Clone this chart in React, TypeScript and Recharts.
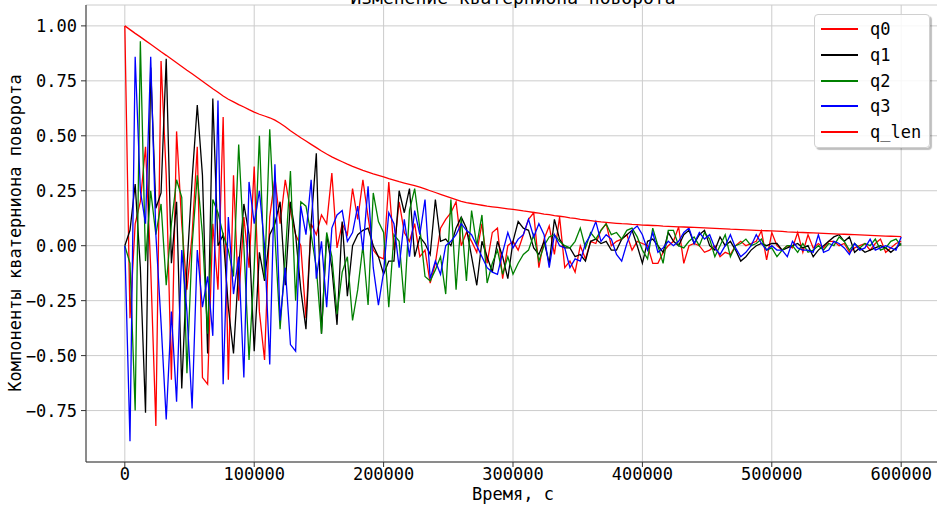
import React from 'react';
import { LineChart, Line, XAxis, YAxis, CartesianGrid } from 'recharts';

// sampling step of the simulation, seconds
const STEP = 4000;

const q0 = [
  1.00, -0.33, 0.10, 0.20, 0.45, -0.10, -0.82, 0.84, 0.32, -0.61,
  0.52, 0.10, -0.20, 0.05, 0.45, -0.60, -0.63, 0.10, -0.20, 0.585,
  -0.61, 0.32, -0.25, 0.13, -0.10, 0.36, -0.30, -0.52, 0.13, 0.31,
  0.10, 0.30, 0.16, 0.05, 0.00, -0.33, 0.10, 0.05, 0.14, 0.10,
  0.33, -0.01, 0.10, 0.05, 0.26, 0.12, 0.30, 0.13, -0.02, -0.05,
  -0.06, 0.29, -0.02, 0.20, 0.06, 0.02, 0.10, -0.05, -0.02, -0.17,
  -0.08, 0.08, 0.12, 0.15, 0.20, 0.00, 0.06, 0.02, -0.03, 0.10,
  -0.08, 0.06, 0.08, -0.15, 0.00, 0.02, -0.02, 0.05, 0.12, 0.15,
  -0.10, 0.03, 0.09, -0.04, 0.13, -0.10, -0.07, -0.12, 0.00, -0.06,
  0.02, 0.01, 0.07, 0.10, 0.00, 0.02, 0.03, 0.05, -0.02, 0.02,
  0.01, 0.00, -0.08, -0.08, -0.03, 0.00, 0.02, 0.085, -0.08, 0.00,
  0.01, 0.00, -0.03, -0.02, 0.00, -0.05, -0.03, -0.04, 0.00, 0.02,
  0.00, 0.01, 0.02, 0.068, -0.065, 0.06, 0.00, -0.02, 0.00, -0.01,
  0.06, -0.03, 0.05, -0.01, 0.01, -0.01, 0.02, 0.02, 0.00, 0.01,
  -0.03, -0.01, 0.00, 0.01, -0.02, 0.01, 0.03, -0.03, -0.01, 0.01,
  0.02,
];

const q1 = [
  0.00, 0.07, 0.28, -0.10, -0.76, 0.81, 0.17, 0.24, 0.85, -0.08,
  0.20, -0.65, -0.10, 0.30, 0.64, 0.32, -0.49, 0.67, 0.00, 0.05,
  -0.28, -0.49, -0.10, 0.19, 0.05, -0.48, -0.03, -0.16, 0.05, 0.10,
  0.20, -0.18, 0.20, 0.05, -0.20, -0.38, 0.10, 0.42, -0.40, 0.05,
  -0.10, -0.36, 0.11, -0.23, 0.00, 0.05, 0.07, 0.08, 0.00, -0.05,
  -0.13, -0.07, -0.07, 0.25, 0.15, 0.26, -0.05, 0.04, 0.01, -0.04,
  0.21, 0.02, 0.03, 0.00, 0.08, 0.13, 0.08, -0.05, -0.18, 0.02,
  -0.05, -0.12, 0.02, -0.05, -0.15, 0.02, 0.11, 0.08, 0.07, -0.01,
  -0.04, 0.02, -0.08, 0.12, 0.03, -0.01, -0.01, -0.05, -0.04, -0.07,
  0.02, 0.03, 0.01, 0.02, -0.02, -0.02, 0.03, 0.05, 0.07, 0.00,
  -0.08, 0.02, 0.03, 0.00, -0.03, 0.06, 0.02, 0.00, 0.05, 0.07,
  0.01, 0.05, 0.07, 0.00, -0.02, 0.04, 0.00, 0.02, -0.02, -0.07,
  -0.05, -0.02, 0.00, 0.01, 0.00, 0.01, 0.01, -0.02, -0.01, 0.00,
  0.01, -0.01, 0.00, -0.05, -0.02, 0.00, 0.02, 0.04, 0.05, 0.02,
  0.04, -0.03, -0.01, -0.03, -0.02, -0.01, 0.00, -0.01, -0.03, -0.01,
  0.01,
];

const q2 = [
  0.00, -0.08, -0.75, 0.93, -0.07, 0.25, 0.05, 0.19, -0.18, 0.10,
  0.30, 0.22, -0.58, 0.00, 0.32, 0.05, -0.40, 0.21, 0.15, 0.05,
  -0.02, -0.14, 0.46, 0.00, -0.52, -0.10, 0.50, -0.15, 0.53, 0.05,
  -0.38, -0.05, 0.34, -0.25, 0.20, 0.18, 0.05, -0.10, -0.40, 0.06,
  -0.05, -0.31, -0.12, -0.05, -0.34, -0.20, 0.00, -0.27, 0.24, 0.11,
  0.06, -0.28, 0.05, 0.02, -0.26, 0.16, 0.26, 0.08, -0.14, -0.16,
  -0.11, -0.05, -0.22, 0.21, -0.20, 0.13, -0.16, 0.16, 0.00, 0.14,
  -0.17, -0.08, -0.02, -0.13, -0.05, -0.13, -0.08, -0.04, -0.02, 0.05,
  -0.07, 0.00, 0.04, 0.05, 0.02, 0.00, -0.01, 0.02, 0.08, -0.01,
  0.06, 0.03, 0.07, 0.10, 0.05, 0.06, 0.03, 0.07, 0.08, 0.04,
  -0.02, -0.06, 0.08, 0.00, -0.08, 0.07, 0.07, 0.00, -0.01, 0.02,
  0.04, 0.00, 0.06, 0.03, -0.05, 0.00, 0.05, -0.05, 0.00, 0.01,
  0.03, 0.00, 0.01, 0.03, -0.02, -0.01, -0.05, -0.02, 0.00, 0.00,
  -0.03, 0.01, -0.03, -0.02, 0.00, -0.02, 0.01, 0.00, 0.04, 0.02,
  -0.02, 0.01, -0.01, 0.01, 0.00, 0.03, -0.02, -0.01, 0.02, 0.03,
  0.00,
];

const q3 = [
  0.00, -0.89, 0.86, 0.25, 0.10, 0.86, 0.05, -0.35, -0.79, -0.30,
  -0.71, -0.02, -0.30, -0.74, -0.02, -0.28, -0.14, -0.41, 0.66, -0.63,
  0.13, -0.22, -0.05, -0.60, 0.29, 0.10, 0.25, 0.00, -0.54, 0.37,
  -0.34, -0.10, -0.45, -0.48, 0.18, 0.05, 0.30, -0.15, 0.02, -0.28,
  0.08, 0.14, 0.16, 0.02, 0.06, 0.18, -0.02, 0.27, -0.10, -0.27,
  -0.12, 0.15, 0.10, -0.10, 0.12, -0.05, 0.16, 0.05, 0.21, -0.15,
  -0.07, -0.13, 0.00, 0.02, 0.05, 0.10, 0.07, 0.05, 0.00, -0.05,
  -0.10, -0.12, -0.13, -0.03, 0.06, -0.01, 0.03, 0.05, 0.12, 0.04,
  0.10, 0.05, -0.10, 0.05, 0.00, -0.01, -0.10, -0.06, -0.07, 0.01,
  0.05, 0.11, 0.02, 0.05, 0.03, -0.04, -0.07, 0.01, 0.07, 0.09,
  0.05, -0.02, 0.06, -0.03, -0.01, 0.02, 0.00, 0.02, 0.06, 0.08,
  0.01, 0.06, 0.03, 0.05, -0.01, -0.04, 0.00, 0.05, -0.01, -0.05,
  -0.03, 0.00, 0.05, 0.01, -0.02, 0.00, -0.02, -0.02, -0.05, 0.02,
  -0.01, -0.02, -0.02, -0.03, 0.05, -0.03, -0.02, 0.02, 0.01, -0.01,
  -0.04, 0.01, -0.02, -0.01, 0.03, -0.02, -0.01, 0.00, -0.01, -0.02,
  0.04,
];

const qLen = [
  1.000, 0.983, 0.966, 0.950, 0.933, 0.916, 0.899, 0.882, 0.866, 0.849,
  0.832, 0.815, 0.798, 0.782, 0.765, 0.748, 0.731, 0.714, 0.698, 0.681,
  0.666, 0.654, 0.642, 0.631, 0.619, 0.608, 0.598, 0.590, 0.582, 0.571,
  0.557, 0.541, 0.523, 0.507, 0.491, 0.476, 0.461, 0.446, 0.431, 0.417,
  0.404, 0.393, 0.382, 0.371, 0.361, 0.352, 0.343, 0.335, 0.327, 0.320,
  0.313, 0.305, 0.298, 0.291, 0.285, 0.279, 0.273, 0.266, 0.258, 0.250,
  0.242, 0.234, 0.226, 0.218, 0.210, 0.202, 0.196, 0.192, 0.188, 0.184,
  0.180, 0.177, 0.174, 0.171, 0.168, 0.165, 0.162, 0.158, 0.155, 0.151,
  0.148, 0.144, 0.141, 0.137, 0.134, 0.131, 0.127, 0.124, 0.120, 0.117,
  0.114, 0.111, 0.108, 0.106, 0.104, 0.102, 0.100, 0.099, 0.097, 0.096,
  0.094, 0.093, 0.092, 0.091, 0.089, 0.088, 0.087, 0.086, 0.085, 0.084,
  0.083, 0.082, 0.081, 0.080, 0.079, 0.078, 0.077, 0.075, 0.074, 0.073,
  0.072, 0.071, 0.070, 0.069, 0.068, 0.067, 0.066, 0.065, 0.063, 0.062,
  0.061, 0.060, 0.059, 0.058, 0.057, 0.056, 0.055, 0.054, 0.053, 0.052,
  0.051, 0.050, 0.049, 0.048, 0.047, 0.046, 0.045, 0.044, 0.043, 0.042,
  0.041,
];

const xTicks = [0, 100000, 200000, 300000, 400000, 500000, 600000];
const yTicks = [-0.75, -0.5, -0.25, 0, 0.25, 0.5, 0.75, 1.0];

const seriesKeys = ['q0', 'q1', 'q2', 'q3', 'q_len'];
const seriesColors = ['#ff0000', '#000000', '#008000', '#0000ff', '#ff0000'];

const data = q0.map((v, i) => ({
  t: i * STEP,
  q0: v,
  q1: q1[i],
  q2: q2[i],
  q3: q3[i],
  q_len: qLen[i],
}));

const FONT = '"DejaVu Sans Mono", monospace';
const AXIS = '#333333';

const fmtY = (v: number) => v.toFixed(2).replace('-', '\u2212');

export default function App() {
  return (
    <div
      style={{
        position: 'absolute',
        left: 0,
        top: 0,
        width: 937,
        height: 506,
        overflow: 'hidden',
        background: '#ffffff',
      }}
    >
      <LineChart width={945} height={506} data={data} margin={{ top: 5, right: 5, bottom: 14, left: 26 }}>
        <CartesianGrid stroke="#cccccc" strokeWidth={1} />
        <XAxis
          dataKey="t"
          type="number"
          domain={[-30000, 630000]}
          ticks={xTicks}
          interval={0}
          allowDataOverflow
          height={30}
          tickSize={5}
          tickMargin={1}
          tick={{ fill: '#000', fontSize: 17, fontFamily: FONT }}
          tickLine={{ stroke: AXIS }}
          axisLine={{ stroke: AXIS }}
        />
        <XAxis
          xAxisId="top"
          orientation="top"
          dataKey="t"
          type="number"
          domain={[-30000, 630000]}
          height={0}
          tick={false}
          tickLine={false}
          axisLine={{ stroke: AXIS }}
        />
        <YAxis
          type="number"
          domain={[-0.984, 1.095]}
          ticks={yTicks}
          interval={0}
          allowDataOverflow
          width={60}
          tickSize={5}
          tickMargin={4}
          tickFormatter={fmtY}
          tick={{ fill: '#000', fontSize: 17, fontFamily: FONT }}
          tickLine={{ stroke: AXIS }}
          axisLine={{ stroke: AXIS }}
        />
        {seriesKeys.map((k, i) => (
          <Line
            key={k}
            type="linear"
            dataKey={k}
            stroke={seriesColors[i]}
            strokeWidth={1.3}
            dot={false}
            isAnimationActive={false}
          />
        ))}
      </LineChart>

      <svg
        width={937}
        height={506}
        style={{ position: 'absolute', left: 0, top: 0, pointerEvents: 'none' }}
      >
        <text x={513} y={4} textAnchor="middle" fontSize={18} fontFamily={FONT} fill="#000">
          Изменение кватерниона поворота
        </text>
        <text
          x={15}
          y={233}
          textAnchor="middle"
          dominantBaseline="central"
          fontSize={17}
          fontFamily={FONT}
          fill="#000"
          transform="rotate(-90, 15, 233)"
        >
          Компоненты кватерниона поворота
        </text>
        <text x={513} y={500} textAnchor="middle" fontSize={17} fontFamily={FONT} fill="#000">
          Время, с
        </text>
      </svg>

      <div
        style={{
          position: 'absolute',
          left: 814,
          top: 14,
          width: 116,
          height: 134,
          boxSizing: 'border-box',
          border: '1px solid #d0d0d0',
          borderRadius: 4,
          background: 'rgba(255,255,255,0.85)',
          boxShadow: '2px 2px 1px rgba(0,0,0,0.25)',
          fontFamily: FONT,
          fontSize: 17,
        }}
      >
        {seriesKeys.map((k, i) => (
          <div
            key={k}
            style={{ position: 'absolute', left: 0, top: 3 + i * 25.8, height: 22, width: '100%' }}
          >
            <div
              style={{
                position: 'absolute',
                left: 6,
                top: 10,
                width: 37,
                height: 2,
                backgroundColor: seriesColors[i],
              }}
            />
            <span style={{ position: 'absolute', left: 55, top: 0, lineHeight: '22px', color: '#000' }}>{k}</span>
          </div>
        ))}
      </div>
    </div>
  );
}
